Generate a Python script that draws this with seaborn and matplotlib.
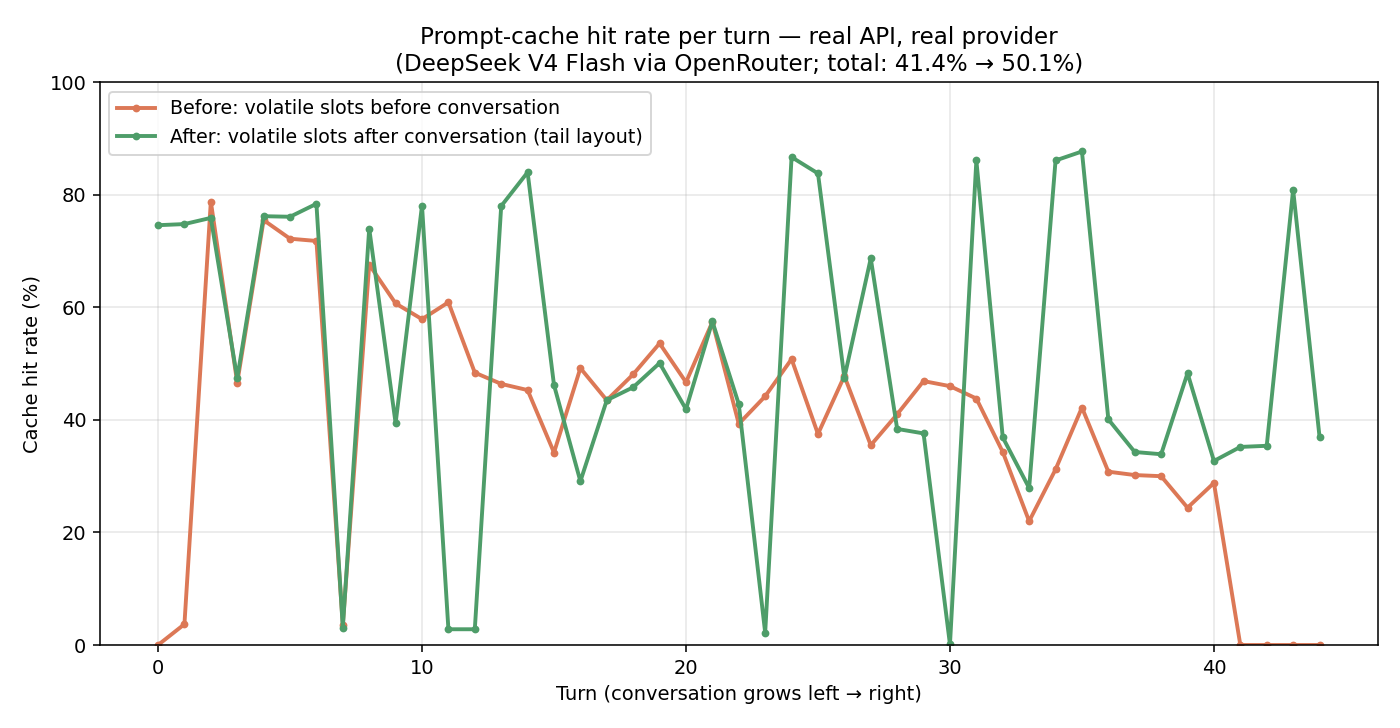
import numpy as np
import pandas as pd
import matplotlib
matplotlib.use("Agg")
import matplotlib.pyplot as plt
import seaborn as sns

turns = list(range(45))

before_hit = [0.0, 3.7, 78.8, 46.6, 75.5, 72.2, 71.8, 3.6, 67.6, 60.7,
              57.9, 60.9, 48.4, 46.4, 45.3, 34.2, 49.2, 43.5, 48.1, 53.6,
              46.7, 57.4, 39.3, 44.2, 50.8, 37.5, 47.8, 35.5, 41.0, 46.9,
              46.0, 43.8, 34.3, 22.0, 31.2, 42.2, 30.8, 30.2, 30.0, 24.4,
              28.8, 0.0, 0.0, 0.0, 0.0]

after_hit = [74.6, 74.8, 75.9, 47.4, 76.2, 76.1, 78.4, 3.1, 74.0, 39.4,
             78.1, 2.8, 2.8, 78.0, 84.0, 46.2, 29.1, 43.5, 45.8, 50.1,
             41.9, 57.5, 42.8, 2.2, 86.7, 83.8, 47.5, 68.7, 38.4, 37.6,
             0.1, 86.1, 36.9, 27.9, 86.1, 87.7, 40.1, 34.3, 33.9, 48.3,
             32.7, 35.2, 35.4, 80.9, 37.0]

label_before = "Before: volatile slots before conversation"
label_after = "After: volatile slots after conversation (tail layout)"

df = pd.concat([
    pd.DataFrame({"turn": turns, "hit": before_hit, "layout": label_before}),
    pd.DataFrame({"turn": turns, "hit": after_hit, "layout": label_after}),
])

palette = {label_before: "#dc7856", label_after: "#4e9d69"}

fig, ax = plt.subplots(figsize=(10, 5.2), dpi=140)
sns.lineplot(data=df, x="turn", y="hit", hue="layout", palette=palette,
             marker="o", markersize=4, markeredgewidth=0, linewidth=2,
             ax=ax)

ax.set_ylim(0, 100)
ax.set_xlabel("Turn (conversation grows left \u2192 right)")
ax.set_ylabel("Cache hit rate (%)")
ax.set_title("Prompt-cache hit rate per turn \u2014 real API, real provider\n"
             "(DeepSeek V4 Flash via OpenRouter; total: 41.4% \u2192 50.1%)",
             fontsize=11.8)
ax.grid(True, alpha=0.3)
ax.legend(title=None, loc="upper left", fontsize=9.8)

fig.subplots_adjust(left=0.0714, right=0.984, bottom=0.114, top=0.887)
fig.savefig("out.png", dpi=140)
